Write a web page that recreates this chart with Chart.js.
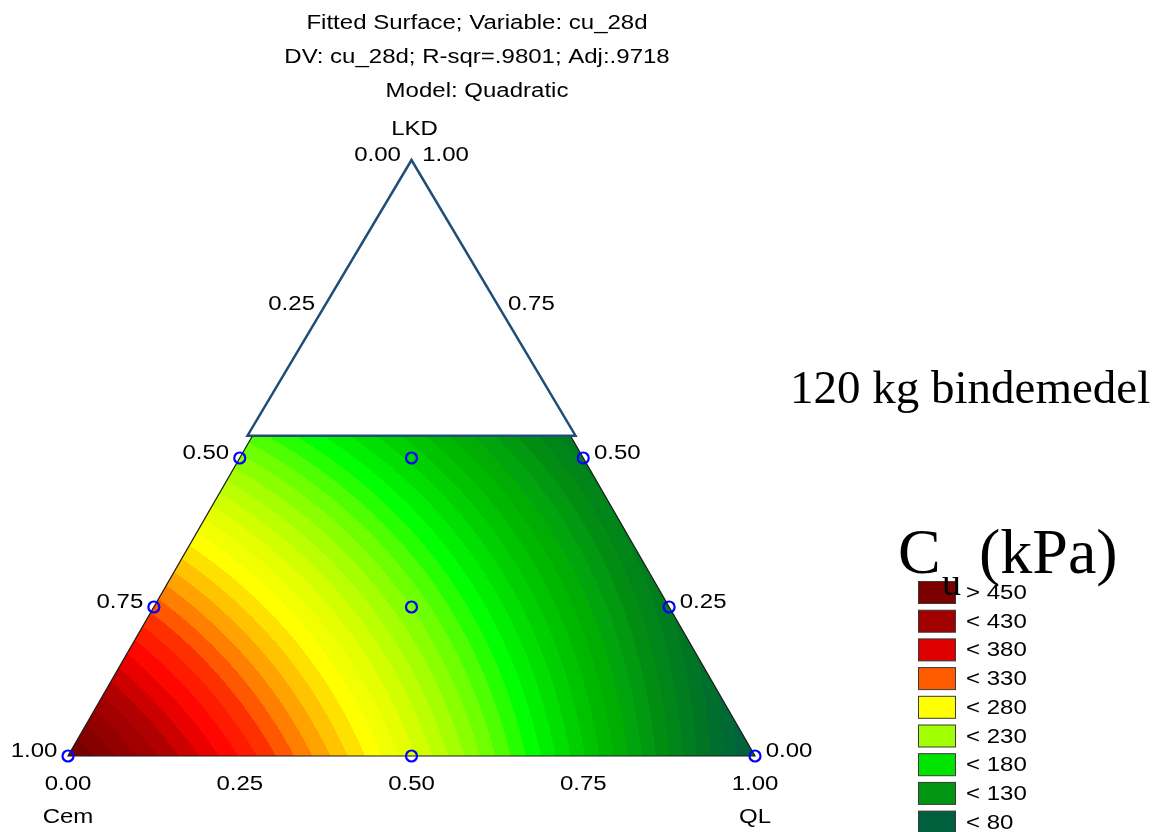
<!DOCTYPE html>
<html>
<head>
<meta charset="utf-8">
<script src="https://cdn.jsdelivr.net/npm/chart.js@4.4.1/dist/chart.umd.min.js"></script>
<style>
  html, body { margin: 0; padding: 0; background: #ffffff; }
  #wrap { width: 1173px; height: 832px; }
</style>
</head>
<body>
<div id="wrap"><canvas id="c" width="1173" height="832"></canvas></div>
<script>
// ---------------- DATA ----------------
const titleLines = ['Fitted Surface; Variable: cu_28d', 'DV: cu_28d; R-sqr=.9801; Adj:.9718', 'Model: Quadratic'];
const componentNames = ['Cem', 'QL', 'LKD'];
const axisTicks = [0, 0.25, 0.5, 0.75, 1];
const axisTickLabels = ['0.00', '0.25', '0.50', '0.75', '1.00'];

// design points (mixture proportions)
const designCem = [1, 0.5, 0, 0.75, 0.375, 0, 0.5, 0.25, 0];
const designQL  = [0, 0.5, 1, 0, 0.375, 0.75, 0, 0.25, 0.5];
const designLKD = [0, 0, 0, 0.25, 0.25, 0.25, 0.5, 0.5, 0.5];

// fitted quadratic (Scheffe) model: Cem, QL, LKD, Cem*QL, Cem*LKD, QL*LKD
const modelCoef = [471.4, 55.6, 0.9, 115.7, 65.0, 315.0];

// contour banding / colour ramp
const bandStep = 10;
const rampValues = [60, 102, 128, 140, 159, 186, 215, 240, 263, 291, 315, 336, 351, 375, 398, 425, 465];
const rampColors = ['#006040', '#007a20', '#009010', '#00a010', '#00b000', '#00d000', '#00ff00', '#60ff00', '#a0ff00', '#e0ff00', '#ffff00', '#ffc000', '#ff9000', '#ff3000', '#ff0000', '#b00000', '#780000'];

// legend
const legendLabels = ['> 450', '< 430', '< 380', '< 330', '< 280', '< 230', '< 180', '< 130', '< 80'];
const legendColors = ['#7c0000', '#a00000', '#dc0000', '#ff5c00', '#ffff00', '#a0ff00', '#00e400', '#009614', '#005f3c'];

// white mask triangle (unexplored region) in mixture proportions
const maskCem = [0.47, -0.0075, 0];
const maskQL  = [-0.0075, 0.47, 0];
const maskLKD = [0.5375, 0.5375, 1];

const annotationText = '120 kg bindemedel';
const unitMain = 'C';
const unitSub = 'u';
const unitRest = '(kPa)';

// ---------------- HELPERS ----------------
const H = Math.sqrt(3) / 2;
function toXY(cem, ql, lkd) { return { x: ql + lkd / 2, y: lkd * H }; }
function model(c, q, l) {
  return modelCoef[0] * c + modelCoef[1] * q + modelCoef[2] * l +
         modelCoef[3] * c * q + modelCoef[4] * c * l + modelCoef[5] * q * l;
}
function hexToRgb(h) { return [parseInt(h.substr(1, 2), 16), parseInt(h.substr(3, 2), 16), parseInt(h.substr(5, 2), 16)]; }
const rampRgb = rampColors.map(hexToRgb);
function rampColor(v) {
  if (v <= rampValues[0]) return rampRgb[0];
  const n = rampValues.length;
  if (v >= rampValues[n - 1]) return rampRgb[n - 1];
  for (let i = 0; i < n - 1; i++) {
    if (v >= rampValues[i] && v <= rampValues[i + 1]) {
      const t = (v - rampValues[i]) / (rampValues[i + 1] - rampValues[i]);
      const a = rampRgb[i], b = rampRgb[i + 1];
      return [a[0] + (b[0] - a[0]) * t, a[1] + (b[1] - a[1]) * t, a[2] + (b[2] - a[2]) * t];
    }
  }
  return rampRgb[n - 1];
}
const SANS = '"Liberation Sans", Arial, sans-serif';
const SERIF = '"Liberation Serif", "Times New Roman", serif';
function txt(ctx, s, x, y, align, size, sx) {
  ctx.save();
  ctx.translate(x, y);
  ctx.scale(sx || 1.2, 1);
  ctx.font = size + 'px ' + SANS;
  ctx.textAlign = align;
  ctx.textBaseline = 'alphabetic';
  ctx.fillStyle = '#000000';
  ctx.fillText(s, 0, 0);
  ctx.restore();
}

// ---------------- PLUGIN ----------------
const ternaryPlugin = {
  id: 'ternary',
  beforeDatasetsDraw(chart) {
    const ctx = chart.ctx;
    const xs = chart.scales.x, ys = chart.scales.y;
    const px = (c, q, l) => { const p = toXY(c, q, l); return [xs.getPixelForValue(p.x), ys.getPixelForValue(p.y)]; };
    // ---- filled contour field ----
    const x0 = Math.floor(xs.left) - 1, x1 = Math.ceil(xs.right) + 1;
    const y0 = Math.floor(ys.top) - 1, y1 = Math.ceil(ys.bottom) + 1;
    const w = x1 - x0, h = y1 - y0;
    const off = document.createElement('canvas');
    off.width = w; off.height = h;
    const octx = off.getContext('2d');
    const img = octx.createImageData(w, h);
    const tol = 0.0015;
    for (let j = 0; j < h; j++) {
      const yv = ys.getValueForPixel(y0 + j + 0.5);
      const lkd = yv / H;
      for (let i = 0; i < w; i++) {
        const xv = xs.getValueForPixel(x0 + i + 0.5);
        const ql = xv - lkd / 2;
        const cem = 1 - ql - lkd;
        if (cem < -tol || ql < -tol || lkd < -tol) continue;
        const v = model(cem, ql, lkd);
        const vb = Math.floor(v / bandStep) * bandStep + bandStep / 2;
        const col = rampColor(vb);
        const k = (j * w + i) * 4;
        img.data[k] = col[0]; img.data[k + 1] = col[1]; img.data[k + 2] = col[2]; img.data[k + 3] = 255;
      }
    }
    octx.putImageData(img, 0, 0);
    ctx.save();
    const A = px(1, 0, 0), B = px(0, 1, 0), C = px(0, 0, 1);
    ctx.beginPath(); ctx.moveTo(A[0], A[1]); ctx.lineTo(B[0], B[1]); ctx.lineTo(C[0], C[1]); ctx.closePath();
    ctx.clip();
    ctx.drawImage(off, x0, y0);
    ctx.restore();
    // ---- main triangle outline ----
    ctx.save();
    ctx.strokeStyle = '#1a1a1a';
    ctx.lineWidth = 1.2;
    ctx.beginPath(); ctx.moveTo(A[0], A[1]); ctx.lineTo(B[0], B[1]); ctx.lineTo(C[0], C[1]); ctx.closePath();
    ctx.stroke();
    ctx.restore();
    // ---- white mask triangle ----
    ctx.save();
    ctx.beginPath();
    for (let i = 0; i < maskCem.length; i++) {
      const p = px(maskCem[i], maskQL[i], maskLKD[i]);
      if (i === 0) ctx.moveTo(p[0], p[1]); else ctx.lineTo(p[0], p[1]);
    }
    ctx.closePath();
    ctx.fillStyle = '#ffffff';
    ctx.fill();
    ctx.strokeStyle = '#1f4e79';
    ctx.lineWidth = 2.5;
    ctx.lineJoin = 'miter';
    ctx.stroke();
    ctx.restore();
  },
  afterDraw(chart) {
    const ctx = chart.ctx;
    const xs = chart.scales.x, ys = chart.scales.y;
    const px = (c, q, l) => { const p = toXY(c, q, l); return [xs.getPixelForValue(p.x), ys.getPixelForValue(p.y)]; };
    // titles
    txt(ctx, titleLines[0], 477, 29, 'center', 20);
    txt(ctx, titleLines[1], 477, 63, 'center', 20);
    txt(ctx, titleLines[2], 477, 97, 'center', 20);
    // axis tick labels
    for (let i = 0; i < axisTicks.length; i++) {
      const t = axisTicks[i];
      const L = px(1 - t, 0, t);
      txt(ctx, axisTickLabels[axisTicks.length - 1 - i], L[0] - 34, L[1] + 1, 'center', 20);
      const R = px(0, 1 - t, t);
      txt(ctx, axisTickLabels[i], R[0] + 34, R[1] + 1, 'center', 20);
      const Bt = px(1 - t, t, 0);
      txt(ctx, axisTickLabels[i], Bt[0], Bt[1] + 34, 'center', 20);
    }
    const Cp = px(0, 0, 1), Ap = px(1, 0, 0), Bp = px(0, 1, 0);
    txt(ctx, componentNames[2], Cp[0] + 3, Cp[1] - 25, 'center', 20);
    txt(ctx, componentNames[0], Ap[0], Ap[1] + 67, 'center', 20);
    txt(ctx, componentNames[1], Bp[0], Bp[1] + 67, 'center', 20);
    // annotation
    ctx.save();
    ctx.fillStyle = '#000000';
    ctx.textBaseline = 'alphabetic';
    ctx.textAlign = 'left';
    ctx.font = '47px ' + SERIF;
    ctx.fillText(annotationText, 790, 403);
    ctx.restore();
    // legend
    for (let i = 0; i < legendLabels.length; i++) {
      const top = 581 + i * 28.7;
      ctx.save();
      ctx.fillStyle = legendColors[i];
      ctx.fillRect(918.5, top + 0.5, 37, 22);
      ctx.strokeStyle = '#3a3a3a';
      ctx.lineWidth = 1;
      ctx.strokeRect(918.5, top + 0.5, 37, 22);
      ctx.restore();
      txt(ctx, legendLabels[i], 966, top + 18, 'left', 20);
    }
    // unit label C_u (kPa)
    ctx.save();
    ctx.fillStyle = '#000000';
    ctx.textBaseline = 'alphabetic';
    ctx.textAlign = 'left';
    ctx.font = '64px ' + SERIF;
    ctx.fillText(unitMain, 898, 573);
    ctx.fillText(unitRest, 979, 573);
    ctx.font = '38px ' + SERIF;
    ctx.fillText(unitSub, 942, 595);
    ctx.restore();
  }
};

// ---------------- CHART ----------------
const pointData = designCem.map((c, i) => toXY(c, designQL[i], designLKD[i]));

new Chart(document.getElementById('c'), {
  type: 'scatter',
  data: {
    datasets: [{
      label: 'Design points',
      data: pointData,
      pointRadius: 5.5,
      pointHoverRadius: 5.5,
      pointBorderWidth: 2.2,
      pointBorderColor: '#0000ff',
      pointBackgroundColor: 'rgba(0,0,0,0)',
      clip: false
    }]
  },
  options: {
    responsive: false,
    devicePixelRatio: 1,
    animation: false,
    events: [],
    layout: { padding: { left: 68, right: 418, top: 160, bottom: 76 } },
    scales: {
      x: { type: 'linear', min: 0, max: 1, display: false },
      y: { type: 'linear', min: 0, max: H, display: false }
    },
    plugins: {
      legend: { display: false },
      tooltip: { enabled: false },
      title: { display: false }
    }
  },
  plugins: [ternaryPlugin]
});
</script>
</body>
</html>
